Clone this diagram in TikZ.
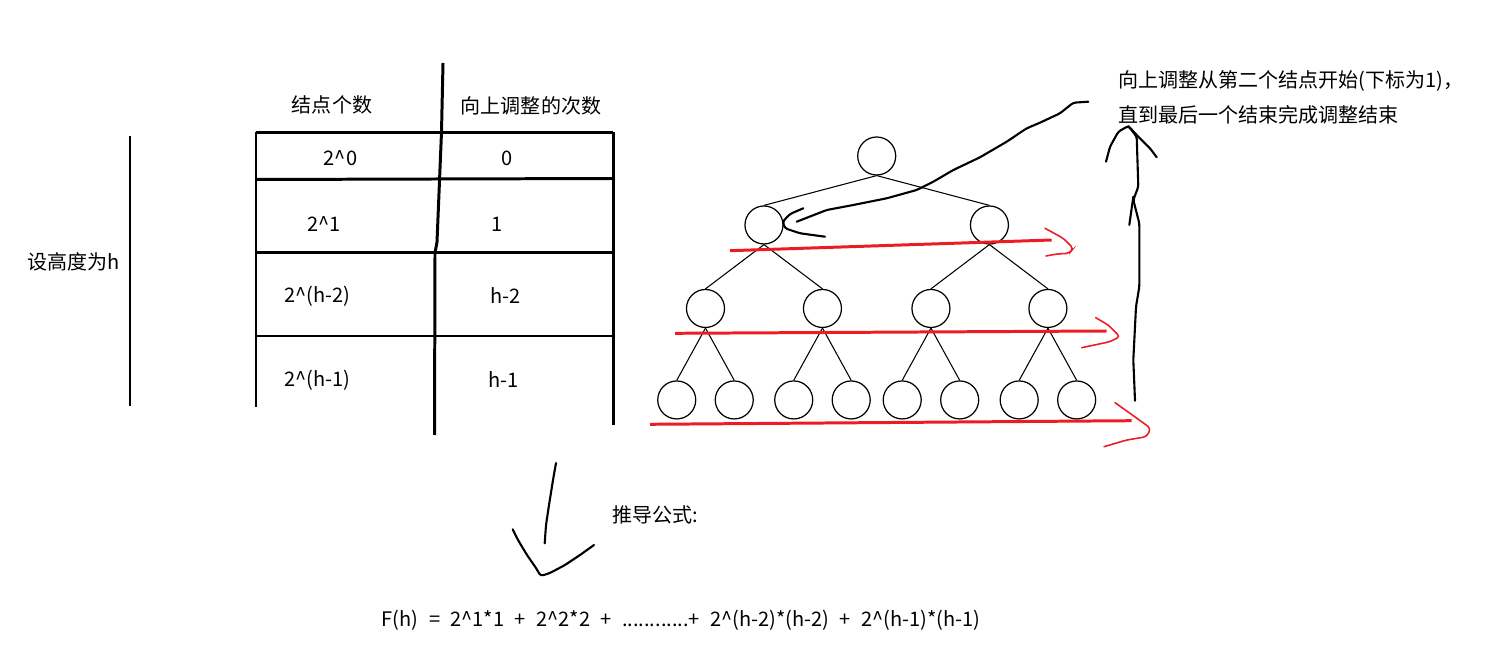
\documentclass[tikz,border=0pt]{standalone}
\usepackage{fontspec}
\setmainfont{Noto Sans CJK SC}
\usepackage{xcolor}
\usetikzlibrary{positioning,trees}
\definecolor{penred}{RGB}{237,28,36}
\newcommand{\pw}{\textasciicircum}

\begin{document}
\begin{tikzpicture}[x=0.02cm,y=-0.02cm,
every node/.style={font=\fontsize{11.4}{13.7}\selectfont,inner sep=0pt},
grid/.style={line width=1.7pt},
redline/.style={penred,line width=1.7pt},
redtip/.style={penred,line width=0.9pt,rounded corners=2pt,line cap=round},
pen/.style={line width=1.2pt,rounded corners=1.5pt,line join=round,line cap=round}]
\useasboundingbox (0,0) rectangle (1500,648);

% height bar and table
\node (hgt) at (74,262) {设高度为h};
\draw[grid] (130,136) -- (130,406);
\draw[grid] (256,132) -- (256,407);
\draw[grid] (443,63) -- (441.5,132) -- (437,242) -- (435,253) -- (434.5,435);
\draw[grid] (613,132) -- (613,425);
\draw[grid] (256,132.3) -- (613,132.3);
\draw[grid] (256,179.5) -- (613,178.5);
\draw[grid] (256,252.3) -- (613,252.3);
\draw[grid] (256,336) -- (613,336);
\node (hcnt) at (332,105) {结点个数};
\node (hadj) at (531,106) {向上调整的次数};
\node (n0) at (340.5,158) {2\pw0};
\node (k0) at (506.7,158) {0};
\node (n1) at (323.8,224) {2\pw1};
\node (k1) at (496.7,224) {1};
\node (n2) at (317.5,296) {2\pw(h-2)};
\node (k2) at (505.5,296) {h-2};
\node (n3) at (317.5,380.5) {2\pw(h-1)};
\node (k3) at (503.8,380) {h-1};

% heap tree
\begin{scope}[grow=down,level distance=1.38cm,
level 1/.style={sibling distance=4.51cm},
level 2/.style={sibling distance=2.34cm,level distance=1.67cm},
level 3/.style={sibling distance=1.15cm,level distance=1.83cm},
every node/.style={draw,circle,minimum size=0.76cm,inner sep=0pt,line width=0.7pt},
edge from parent/.style={draw,line width=0.6pt},
parent anchor=south,child anchor=north]
\node (r) at (876.7,156) {}
 child {node (a) {}
   child {node (aa) {}
     child {node (aaa) {}}
     child {node (aab) {}}
   }
   child {node (ab) {}
     child {node (aba) {}}
     child {node (abb) {}}
   }
 }
 child {node (b) {}
   child {node (ba) {}
     child {node (baa) {}}
     child {node (bab) {}}
   }
   child {node (bb) {}
     child {node (bba) {}}
     child {node (bbb) {}}
   }
 };
\end{scope}

% red level lines
\draw[redline] (730,250.7) -- (1051.7,240);
\draw[redtip] (1045,228.3) -- (1063.3,238.3) -- (1073.3,248.3) -- (1069.3,253.3) -- (1056.7,254) -- (1046,256);
\draw[redline] (675,333.3) -- (1106.7,331);
\draw[redtip] (1095.7,317.7) -- (1108.3,325) -- (1120,336.7) -- (1110,341.7) -- (1081.7,347.7);
\draw[redline] (650,424.3) -- (1131.7,420.7);
\draw[redtip] (1115,402.7) -- (1130,413.3) -- (1150.7,428.3) -- (1146.7,436.7) -- (1126.7,440) -- (1104,446.7);

% notes and hand arrows
\node[anchor=west] (note1) at (1118,81) {向上调整从第二个结点开始(下标为1)，};
\node[anchor=west] (note2) at (1118,115) {直到最后一个结束完成调整结束};
\coordinate (tipa) at (782.7,221.7);
\draw[pen] (1088.3,101.7) -- (1073.3,102.7) -- (1060,113.3) -- (1040,122.7) -- (1026.7,128.3) -- (1006.7,141.7) -- (980,157.3) -- (953.3,170) -- (933.3,181.7) -- (916.7,190) -- (886.7,198.3) -- (853.3,205) -- (826.7,210) -- (796.7,221.7);
\draw[pen] (803.3,208.3) -- (790,214) -- (tipa) -- (785,228.3) -- (800,233.3) -- (825,236.7);
\coordinate (tipv) at (1128.3,126);
\draw[pen] (1135,400.7) -- (1133.3,360) -- (1136,306.7) -- (1139.3,286.7) -- (1139.3,223.3) -- (1133.3,200) -- (1138.3,186.7) -- (1136.7,136.7) -- (tipv);
\draw[pen] (1133.3,196.7) -- (1129.3,225);
\draw[pen] (1106,161.7) -- (1110,146.7) -- (1118.3,131.7) -- (tipv) -- (1136.7,135) -- (1150,148.3) -- (1156.7,157.3);

% derivation
\coordinate (tipd) at (540.7,576);
\draw[pen] (556,463) -- (553,480) -- (549,505) -- (546,525) -- (544.7,543.3);
\draw[pen] (512.7,529.3) -- (518,540) -- (527,555) -- (536,568) -- (tipd) -- (550,573) -- (565,565) -- (580,555) -- (594,545);
\node[anchor=west] (derv) at (611.7,515) {推导公式:};
\node[anchor=west] (fml) at (381.5,620) {\spaceskip=0.52em\relax F(h) = 2\pw1*1 + 2\pw2*2 + ............+ 2\pw(h-2)*(h-2) + 2\pw(h-1)*(h-1)};
\end{tikzpicture}
\end{document}
